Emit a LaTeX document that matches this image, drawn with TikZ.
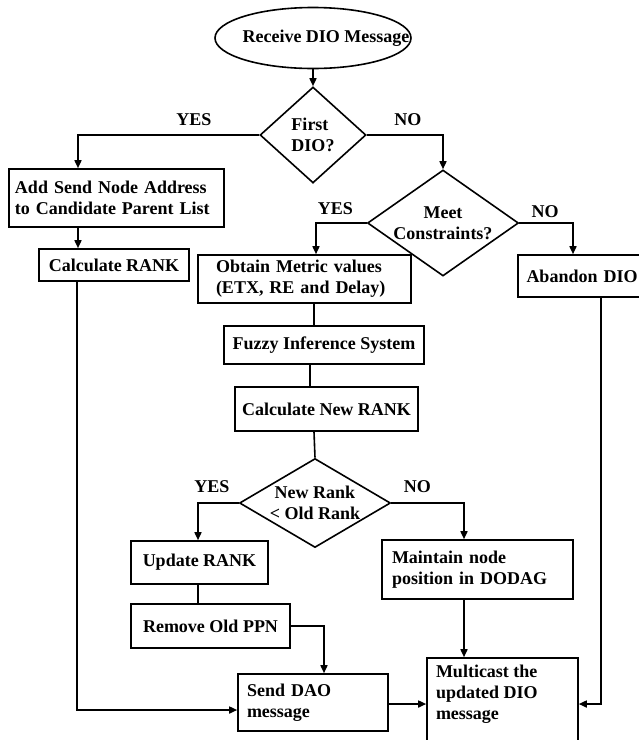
\documentclass[tikz,border=0pt]{standalone}
\usepackage{fontspec}
\setmainfont{Liberation Serif}
\usepackage{tikz}
\usetikzlibrary{positioning}
\usetikzlibrary{shapes.geometric, arrows.meta}
\newcommand{\flowfont}{\fontsize{18}{21}\selectfont\bfseries}
\tikzstyle{startstop} = [ellipse, minimum width=196pt, minimum height=61pt, inner sep=0pt, draw=black, line width=1.6pt, font=\flowfont]
\tikzstyle{decision} = [diamond, inner sep=0pt, draw=black, line width=1.6pt, font=\flowfont, align=center]
\tikzstyle{process} = [rectangle, inner sep=0pt, draw=black, line width=1.6pt, font=\flowfont, align=center]
\tikzstyle{answer} = [inner sep=2pt, font=\flowfont]
\tikzstyle{arrow} = [line width=1.6pt,-{Triangle[length=8pt,width=7pt]}]
\tikzstyle{line} = [line width=1.6pt,-]

\begin{document}
\begin{tikzpicture}[x=1pt, y=1pt]
    \useasboundingbox (0,0) rectangle (639,-740);
    \clip (0,0) rectangle (639,-740);
    \node(start)[startstop] at (313,-38) {\makebox[0pt]{\hspace*{26pt}Receive DIO Message}};
    \node(first)[node distance=97pt, decision, aspect=1.1, minimum width=106pt, minimum height=96pt, align=left, below of=start] {First\\DIO?};
    \node(addnode)[node distance=63pt, process, minimum width=215pt, minimum height=58pt, text width=203pt, align=left, below of=first, xshift=-196.5pt] {Add Send Node Address\\to Candidate Parent List};
    \node(calcrank)[node distance=67pt, process, minimum width=150pt, minimum height=32pt, below of=addnode, xshift=-2.5pt] {Calculate RANK};
    \node(meet)[node distance=88pt, decision, aspect=1.42, minimum width=151pt, minimum height=106pt, below of=first, xshift=130pt] {Meet\\Constraints?};
    \node(obtain)[node distance=56pt, process, minimum width=213pt, minimum height=48pt, text width=177pt, align=left, below of=meet, xshift=-138.5pt] {Obtain Metric values\\(ETX, RE and Delay)};
    \node(abandon)[node distance=53pt, process, minimum width=150pt, minimum height=42pt, text width=133pt, align=left, below of=meet, xshift=150pt] {Abandon DIO};
    \node(fuzzy)[node distance=66pt, process, minimum width=200pt, minimum height=38pt, below of=obtain, xshift=19.5pt] {Fuzzy Inference System};
    \node(calcnew)[node distance=64pt, process, minimum width=183pt, minimum height=44pt, below of=fuzzy, xshift=2.5pt] {Calculate New RANK};
    \node(newrank)[node distance=94pt, decision, aspect=1.7, minimum width=151pt, minimum height=89pt, below of=calcnew, xshift=-11.5pt] {New Rank\\< Old Rank};
    \node(update)[node distance=59.5pt, process, minimum width=137pt, minimum height=43pt, below of=newrank, xshift=-115.5pt] {Update RANK};
    \node(remove)[node distance=63.5pt, process, minimum width=159pt, minimum height=44pt, below of=update, xshift=11pt] {Remove Old PPN};
    \node(maintain)[node distance=66.5pt, process, minimum width=191pt, minimum height=59pt, text width=171pt, align=left, below of=newrank, xshift=162.5pt] {Maintain node\\position in DODAG};
    \node(senddao)[node distance=76.5pt, process, minimum width=150pt, minimum height=57pt, text width=132pt, align=left, below of=remove, xshift=102.5pt] {Send DAO\\message};
    \node(multicast)[node distance=143.5pt, process, minimum width=151pt, minimum height=110pt, below of=maintain, xshift=25pt] {\parbox[c][96pt][t]{133pt}{Multicast the\\updated DIO\\message}};
    \draw[arrow](start) -- (first);
    \draw[arrow](first.west) -| node[answer, pos=0.18, above=7pt] {YES} ([xshift=-38.5pt]addnode.north);
    \draw[arrow](first.east) -| node[answer, pos=0.27, above=7pt] {NO} (meet.north);
    \draw[arrow]([xshift=-38.5pt]addnode.south) -- ([xshift=-38.5pt]addnode.south |- calcrank.north);
    \draw[arrow](meet.west) -| node[answer, pos=0.31, above=6pt] {YES} ([xshift=11.5pt]obtain.north);
    \draw[arrow](meet.east) -| node[answer, pos=0.24, above=3pt] {NO} ([xshift=-20pt]abandon.north);
    \draw[line]([xshift=9.5pt]obtain.south) -- ([xshift=9.5pt]obtain.south |- fuzzy.north);
    \draw[line]([xshift=-14pt]fuzzy.south) -- ([xshift=-14pt]fuzzy.south |- calcnew.north);
    \draw[line]([xshift=-12.5pt]calcnew.south) -- (newrank.north);
    \draw[arrow](newrank.west) -| node[answer, pos=0.33, above=8pt] {YES} ([xshift=-1.5pt]update.north);
    \draw[arrow](newrank.east) -| node[answer, pos=0.18, above=8pt] {NO} ([xshift=-13.5pt]maintain.north);
    \draw[line]([xshift=-1.5pt]update.south) -- ([xshift=-1.5pt]update.south |- remove.north);
    \draw[arrow](remove.east) -| ([xshift=11pt]senddao.north);
    \draw[arrow]([xshift=-37pt]calcrank.south) |- ([yshift=-7.5pt]senddao.west);
    \draw[arrow]([yshift=-1.5pt]senddao.east) -- ([yshift=-1.5pt]senddao.east -| multicast.west);
    \draw[arrow]([xshift=-13.5pt]maintain.south) -- ([xshift=-13.5pt]maintain.south |- multicast.north);
    \draw[arrow]([xshift=8pt]abandon.south) |- ([yshift=9pt]multicast.east);
  \end{tikzpicture}
\end{document}
